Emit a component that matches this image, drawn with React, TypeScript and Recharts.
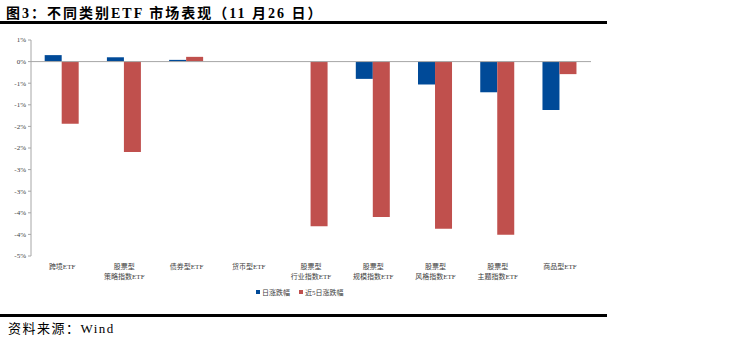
import { Bar, BarChart, ReferenceLine, XAxis, YAxis } from "recharts";

const CATEGORIES = [
  "跨境ETF",
  "股票型\n策略指数ETF",
  "债券型ETF",
  "货币型ETF",
  "股票型\n行业指数ETF",
  "股票型\n规模指数ETF",
  "股票型\n风格指数ETF",
  "股票型\n主题指数ETF",
  "商品型ETF",
];
const DAILY_CHANGE = [0.15, 0.1, 0.04, 0, 0, -0.4, -0.53, -0.71, -1.12];
const FIVE_DAY_CHANGE = [-1.44, -2.09, 0.11, 0, -3.81, -3.6, -3.87, -4.01, -0.29];
const SERIES_NAMES = ["日涨跌幅", "近5日涨跌幅"];
const Y_TICKS = [0.5, 0, -0.5, -1, -1.5, -2, -2.5, -3, -3.5, -4, -4.5];

const BLUE = "#004a98";
const RED = "#c0504d";
const GREY = "#a6a6a6";
const SERIF = '"Liberation Serif", "DejaVu Serif", "Noto Sans CJK SC", serif';

const data = CATEGORIES.map((name, i) => ({
  name,
  daily: DAILY_CHANGE[i],
  fiveDay: FIVE_DAY_CHANGE[i],
}));

// Excel-style 0-decimal percent: rounds half away from zero
const formatPct = (v: number) => `${Math.sign(v) * Math.round(Math.abs(v))}%`.replace("-0%", "0%");

function CategoryTick({ x, y, payload }: { x?: number; y?: number; payload?: { value: string } }) {
  const lines = (payload?.value ?? "").split("\n");
  return (
    <text x={x} y={(y ?? 0) + 11} textAnchor="middle" fontSize={7} fill="#404040" fontFamily={SERIF}>
      {lines.map((l, i) => (
        <tspan key={i} x={x} dy={i === 0 ? 0 : 10}>
          {l}
        </tspan>
      ))}
    </text>
  );
}

export default function App() {
  return (
    <div
      style={{
        position: "absolute",
        left: 0,
        top: 0,
        width: 747,
        height: 360,
        background: "#fff",
        fontFamily: SERIF,
      }}
    >
      <div
        style={{
          position: "absolute",
          left: 6,
          top: 2,
          fontSize: 14,
          fontWeight: "bold",
          letterSpacing: 2,
          color: "#000",
          whiteSpace: "nowrap",
        }}
      >
        图3：不同类别ETF 市场表现（11 月26 日）
      </div>
      <div style={{ position: "absolute", left: 0, top: 21, width: 607, height: 3, background: "#000" }} />

      <div style={{ position: "absolute", left: 0, top: 30 }}>
        <BarChart
          width={620}
          height={270}
          data={data}
          margin={{ top: 10, right: 29, bottom: 14, left: 0 }}
          barCategoryGap="22%"
          barGap={0}
        >
          <XAxis
            dataKey="name"
            interval={0}
            axisLine={false}
            tickLine={false}
            tickSize={0}
            height={30}
            tick={<CategoryTick />}
          />
          <YAxis
            width={31}
            domain={[-4.5, 0.5]}
            ticks={Y_TICKS}
            tickFormatter={formatPct}
            axisLine={{ stroke: GREY }}
            tickLine={{ stroke: GREY }}
            tickSize={3}
            tick={{ fontSize: 7, fill: "#404040", fontFamily: SERIF }}
            interval={0}
          />
          <ReferenceLine y={0} stroke={GREY} strokeWidth={1} />
          <Bar dataKey="daily" name={SERIES_NAMES[0]} fill={BLUE} isAnimationActive={false} />
          <Bar dataKey="fiveDay" name={SERIES_NAMES[1]} fill={RED} isAnimationActive={false} />
        </BarChart>
      </div>

      <div
        style={{
          position: "absolute",
          left: 256,
          top: 287,
          display: "flex",
          gap: 9,
          fontSize: 7,
          color: "#404040",
          whiteSpace: "nowrap",
        }}
      >
        {SERIES_NAMES.map((n, i) => (
          <div key={n} style={{ display: "flex", alignItems: "center", gap: 2 }}>
            <span style={{ width: 4, height: 4, background: i === 0 ? BLUE : RED, display: "inline-block" }} />
            <span>{n}</span>
          </div>
        ))}
      </div>

      <div style={{ position: "absolute", left: 0, top: 314, width: 607, height: 3, background: "#000" }} />
      <div
        style={{
          position: "absolute",
          left: 8,
          top: 318,
          fontSize: 13,
          letterSpacing: 1.5,
          color: "#000",
          whiteSpace: "nowrap",
        }}
      >
        资料来源：Wind
      </div>
    </div>
  );
}
